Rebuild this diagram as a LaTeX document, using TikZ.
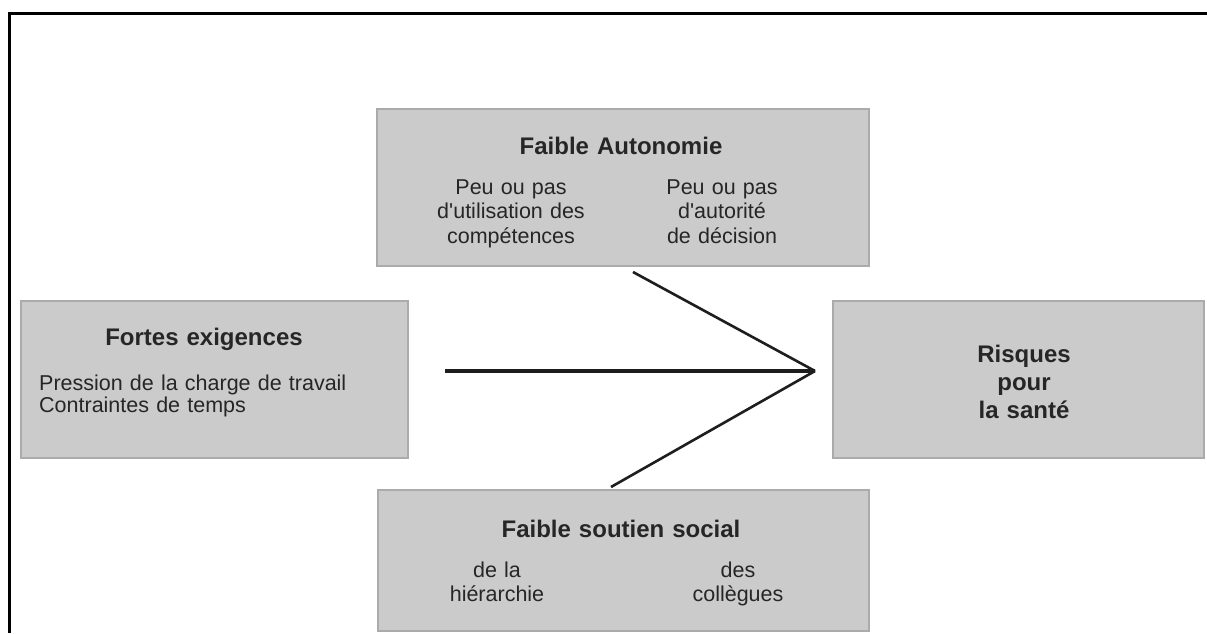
\documentclass[tikz,border=0pt]{standalone}
\usepackage{fontspec}
\setmainfont{Liberation Sans}[Ligatures=TeXOff]
\definecolor{boxfill}{HTML}{CBCBCB}
\definecolor{boxline}{HTML}{ABABAB}
\definecolor{txt}{HTML}{262626}
\definecolor{ink}{HTML}{1E1E1E}
\tikzset{
  box/.style={draw=boxline, fill=boxfill, line width=1.5pt, rectangle, inner sep=0pt, anchor=north west},
  head/.style={text=txt, font=\bfseries\fontsize{24}{28}\selectfont, text width=420pt, align=center, anchor=base, inner sep=0pt},
  body/.style={text=txt, font=\fontsize{21.5}{24.5}\selectfont, text width=300pt, align=center, anchor=base, inner sep=0pt},
  link/.style={draw=ink, line width=3pt},
}
\begin{document}
\begin{tikzpicture}[x=1pt,y=-1pt]
\useasboundingbox (0,0) rectangle (1207,633);
\fill[white] (0,0) rectangle (1207,633);
\draw[line width=3pt, black] (1207,13) -- (9.5,13) -- (9.5,633);
% boxes
\node[box, minimum width=492pt, minimum height=157pt] (auto) at (376,108) {};
\node[box, minimum width=387pt, minimum height=157pt] (exig) at (20,300) {};
\node[box, minimum width=371pt, minimum height=157pt] (risk) at (832,300) {};
\node[box, minimum width=491pt, minimum height=141pt] (sout) at (377,489) {};
% texts top
\node[head] (autoh) at (621,154) {Faible Autonomie};
\node[body] (auto1) at (511,194) {Peu ou pas\\d'utilisation des\\compétences};
\node[body] (auto2) at (722,194) {Peu ou pas\\d'autorité\\de décision};
% left
\node[head] (exigh) at (204,345) {Fortes exigences};
\node[body, text width=360pt, align=left, anchor=base west, font=\fontsize{21.5}{22.5}\selectfont] (exig1) at (39,390) {Pression de la charge de travail\\Contraintes de temps};
% right
\node[head] (riskh) at (1024,362) {Risques\\pour\\la santé};
% bottom
\node[head] (south) at (621,537) {Faible soutien social};
\node[body] (sout1) at (497,577) {de la\\hiérarchie};
\node[body] (sout2) at (738,577) {des\\collègues};
% connectors
\coordinate (apex) at (815,371);
\coordinate (c1) at (633,272);
\coordinate (c2) at (445,371);
\coordinate (c3) at (611,487);
\draw[link, line width=2.6pt] (c1) -- (apex);
\draw[link, line width=3.6pt] (c2) -- (apex);
\draw[link, line width=2.6pt] (c3) -- (apex);
\end{tikzpicture}
\end{document}
